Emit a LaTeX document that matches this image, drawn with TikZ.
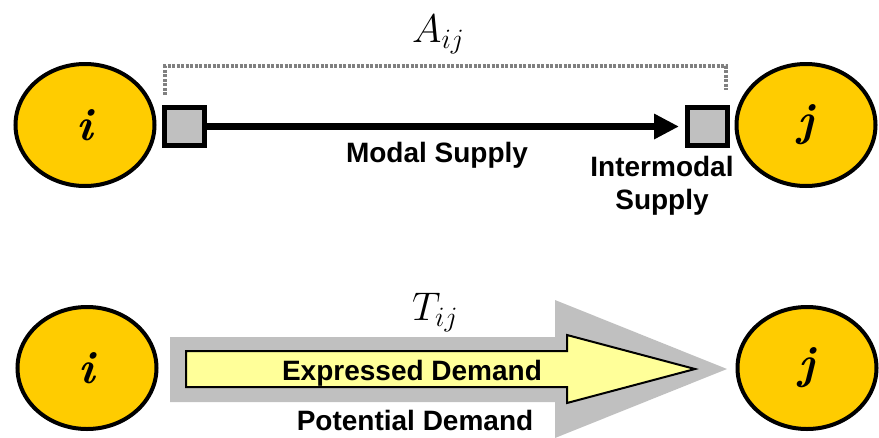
\RequirePackage{fix-cm}
\documentclass[tikz,border=0pt]{standalone}
\usepackage{fontspec}
\setsansfont{Liberation Sans}
\usepackage{tikz}
\usetikzlibrary{arrows.meta}
\usetikzlibrary{shapes.geometric}
\usetikzlibrary{positioning}

\definecolor{zone}{HTML}{FFCC00}
\definecolor{boxgray}{HTML}{C0C0C0}
\definecolor{demand}{HTML}{FFFF99}
\definecolor{dotgray}{HTML}{808080}

\begin{document}
\begin{tikzpicture}[x=1pt, y=-1pt,
    zone/.style={ellipse, draw=black, fill=zone, line width=4pt,
      minimum width=139pt, minimum height=122pt, inner sep=0pt,
      font=\fontsize{46}{46}\selectfont\bfseries\itshape},
    terminal/.style={rectangle, draw=black, fill=boxgray, line width=5pt,
      minimum width=40pt, minimum height=38pt, inner sep=0pt},
    lbl/.style={font=\fontsize{28}{33}\selectfont\sffamily\bfseries, inner sep=0pt},
    flow/.style={font=\fontsize{40}{40}\selectfont, inner sep=0pt}]
        \useasboundingbox (0,0) rectangle (879,437);

        % supply
        \node [zone] (i1) at (85,125) {i};
        \node [zone] (j1) at (806,125) {j};
        \node [terminal] (ti) at (184.5,126.5) {};
        \node [terminal] (tj) at (707.5,126.5) {};

        \draw [line width=7pt, shorten >=6pt,
          -{Triangle[length=25pt, width=24pt]}] (ti.east) -- (tj.west);
        \draw [dotgray, line width=3.5pt, dash pattern=on 3pt off 1.5pt]
          ([xshift=3pt, yshift=10pt]ti.north west) |- ([xshift=-4pt, yshift=39pt]tj.north east)
          -- ([xshift=-4pt, yshift=15pt]tj.north east);

        \node [flow, anchor=base west] (aij) at (412,42) {$A_{ij}$};
        \node [lbl, anchor=base] (modal) at (437,162) {Modal Supply};
        \node [lbl, anchor=north, align=center] (inter) at (662,156) {Intermodal\\Supply};

        % demand
        \node [zone] (i2) at (87,368) {i};
        \node [zone] (j2) at (807,368) {j};

        \fill [boxgray] (170,337) -- (555,337) -- (555,300) -- (727,369)
          -- (555,438) -- (555,402) -- (170,402) -- cycle;
        \draw [fill=demand, draw=black, line width=2pt]
          (186,351) -- (567,351) -- (567,335) -- (695,369)
          -- (567,403) -- (567,387) -- (186,387) -- cycle;

        \node [flow, anchor=base west] (tij) at (412,320) {$T_{ij}$};
        \node [lbl, anchor=base] (expressed) at (412,380) {Expressed Demand};
        \node [lbl, anchor=base] (potential) at (415,430) {Potential Demand};
    \end{tikzpicture}
\end{document}
